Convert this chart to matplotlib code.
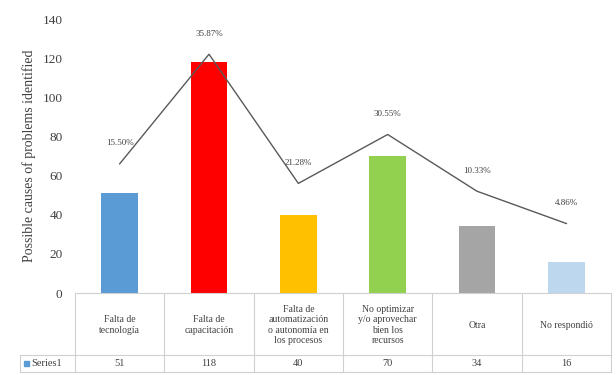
import matplotlib
matplotlib.use("Agg")
import matplotlib.pyplot as plt
from matplotlib.patches import Rectangle

categories = ["Falta de\ntecnología", "Falta de\ncapacitación",
              "Falta de\nautomatización\no autonomía en\nlos procesos",
              "No optimizar\ny/o aprovechar\nbien los\nrecursos",
              "Otra", "No respondió"]
counts = [51, 118, 40, 70, 34, 16]
line_vals = [66, 122, 56, 81, 52, 35.5]
pct_labels = ["15.50%", "35.87%", "21.28%", "30.55%", "10.33%", "4.86%"]
bar_colors = ["#5B9BD5", "#FF0000", "#FFC000", "#92D050", "#A5A5A5", "#BDD7EE"]

plt.rcParams['font.family'] = ['Liberation Serif', 'DejaVu Serif']

W, H = 616, 375
fig = plt.figure(figsize=(W / 100, H / 100), dpi=100)

# plot area in pixels
left, right, top, bottom = 75, 611, 19, 293
ax = fig.add_axes([left / W, 1 - bottom / H, (right - left) / W, (bottom - top) / H])
n = len(counts)
xs = list(range(n))
ax.bar(xs, counts, width=0.41, color=bar_colors, zorder=2)
ax.plot(xs, line_vals, color="#595959", lw=1.0, zorder=3)
for x, y, s in zip(xs, line_vals, pct_labels):
    ax.annotate(s, (x, y), xytext=(0, 12), textcoords="offset points",
                ha="center", va="bottom", fontsize=6.5, color="#404040")

ax.set_xlim(-0.5, n - 0.5)
ax.set_ylim(0, 140)
ax.set_yticks(range(0, 141, 20))
ax.tick_params(axis="y", length=0, labelsize=9.5, labelcolor="#404040", pad=9)
ax.set_xticks([])
for sp in ax.spines.values():
    sp.set_visible(False)
ax.set_ylabel("Possible causes of problems identified", fontsize=10, color="#404040", labelpad=5)

# data table under the bars, sharing the category x scale
colw = (right - left) / n
tax = fig.add_axes([0, 0, 1, 1])
tax.set_xlim(-0.5 - left / colw, n - 0.5 + (W - right) / colw)
tax.set_ylim(H, 0)
tax.axis("off")
grid = "#D0D0D0"
row_top, row_mid, row_bot = 293, 355, 372
lab_left = -0.5 - (left - 20) / colw
tax.plot([-0.5, n - 0.5], [row_top, row_top], color=grid, lw=0.8)
tax.plot([lab_left, n - 0.5], [row_mid, row_mid], color=grid, lw=0.8)
tax.plot([lab_left, n - 0.5], [row_bot, row_bot], color=grid, lw=0.8)
tax.plot([lab_left, lab_left], [row_mid, row_bot], color=grid, lw=0.8)
for i in range(n + 1):
    tax.plot([i - 0.5, i - 0.5], [row_top, row_bot], color=grid, lw=0.8)
for i, (c, v) in enumerate(zip(categories, counts)):
    tax.text(i, (row_top + row_mid) / 2 + 1, c, ha="center", va="center",
             fontsize=7, color="#404040", linespacing=1.15)
    tax.text(i, (row_mid + row_bot) / 2, str(v), ha="center", va="center",
             fontsize=7.5, color="#404040")
tax.add_patch(Rectangle((lab_left + 0.05, 360.5), 0.055, 5, color=bar_colors[0]))
tax.text(lab_left + 0.13, (row_mid + row_bot) / 2, "Series1", ha="left", va="center",
         fontsize=7.5, color="#404040")

fig.savefig("out.png", dpi=100)
